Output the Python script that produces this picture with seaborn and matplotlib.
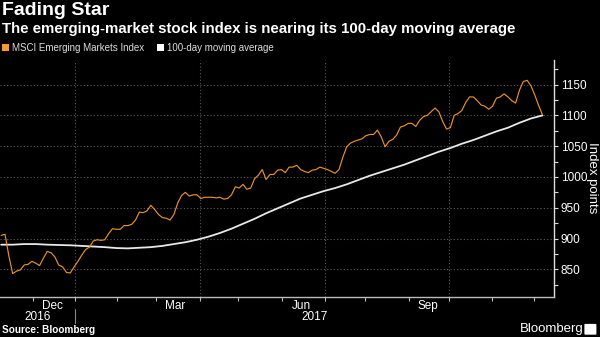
import numpy as np
import pandas as pd
import matplotlib
matplotlib.use("Agg")
import matplotlib.pyplot as plt
from matplotlib.patches import Patch
import matplotlib.transforms as mtransforms
from matplotlib import font_manager
import seaborn as sns

# ---------------- data ----------------
start_date = "2016-11-08"
end_date = "2017-12-07"
# MSCI Emerging Markets Index, sampled every 2 business days from start_date
msci_values = [
    905, 907, 872, 843, 847, 849, 857, 858, 863, 860,
    856, 868, 879, 877, 870, 857, 854, 845, 844, 854,
    863, 873, 882, 886, 896, 898, 897, 898, 908, 916,
    915, 915, 921, 921, 923, 930, 943, 942, 945, 954,
    947, 939, 934, 933, 930, 939, 958, 970, 975, 969,
    971, 971, 965, 967, 967, 967, 966, 967, 964, 965,
    971, 984, 982, 988, 980, 982, 997, 1003, 1012, 996,
    1004, 1004, 1011, 1012, 1007, 1016, 1016, 1019, 1012, 1009,
    1007, 1011, 1012, 1016, 1014, 1012, 1009, 1006, 1012, 1032,
    1049, 1055, 1058, 1060, 1062, 1067, 1069, 1069, 1076, 1065,
    1049, 1058, 1061, 1068, 1081, 1083, 1087, 1087, 1082, 1092,
    1098, 1100, 1106, 1112, 1106, 1090, 1078, 1080, 1100, 1103,
    1108, 1121, 1130, 1130, 1124, 1117, 1115, 1110, 1115, 1128,
    1130, 1135, 1130, 1124, 1120, 1141, 1155, 1157, 1148, 1133,
    1116, 1101,
]
# 100-day moving average, sampled every 6 business days from start_date
ma_values = [
    890, 890, 891, 891, 890, 889.5, 889, 888, 887, 886,
    884.5, 884, 885, 886, 888, 891, 894, 898, 903, 909,
    916, 924, 932, 941, 949, 957, 965, 971, 977, 982,
    988, 995, 1002, 1008, 1014, 1020, 1027, 1034, 1041, 1047,
    1054, 1060, 1067, 1074, 1080, 1088, 1095, 1100,
]
month_labels = ["Dec", "Mar", "Jun", "Sep"]
month_label_dates = ["2016-12-15", "2017-03-15", "2017-06-15", "2017-09-15"]
year_labels = ["2016", "2017"]
y_ticks = [850, 900, 950, 1000, 1050, 1100, 1150]
series_names = ["MSCI Emerging Markets Index", "100-day moving average"]

ORANGE = "#e8902a"
LEGEND_ORANGE = "#f59a30"
MA_COLOR = "#e8e8e8"
BG = "#000000"

installed = {f.name for f in font_manager.fontManager.ttflist}
NARROW = ["Liberation Sans Narrow", "DejaVu Sans"] if "Liberation Sans Narrow" in installed else ["Liberation Sans", "DejaVu Sans"]

# business-day axis
bdays = pd.bdate_range(start_date, end_date)
pos = pd.Series(np.arange(len(bdays)), index=bdays)

df_msci = pd.DataFrame({"date": bdays[::2][:len(msci_values)], "value": msci_values})
df_msci["x"] = pos.loc[df_msci["date"]].values
df_ma = pd.DataFrame({"date": bdays[::6][:len(ma_values)], "value": ma_values})
df_ma["x"] = pos.loc[df_ma["date"]].values

def bpos(d):
    d = pd.Timestamp(d)
    return float(np.searchsorted(bdays.values, np.datetime64(d))) - 0.5

sns.set_theme(style="dark")
plt.rcParams["font.family"] = ["Liberation Sans", "DejaVu Sans"]

fig = plt.figure(figsize=(6.0, 3.37), dpi=100, facecolor=BG)
ax = fig.add_axes([0.0, 1 - 297 / 337, 554 / 600, (297 - 60) / 337])
ax.set_facecolor(BG)

sns.lineplot(data=df_ma, x="x", y="value", ax=ax, color=MA_COLOR, lw=1.3,
             legend=False, zorder=3)
sns.lineplot(data=df_msci, x="x", y="value", ax=ax, color=ORANGE, lw=0.85,
             legend=False, zorder=4)

ax.set_xlim(-0.6, 288)
ax.set_ylim(805, 1190)

# spines
for s in ["left", "top"]:
    ax.spines[s].set_visible(False)
ax.spines["right"].set_color("#dddddd")
ax.spines["bottom"].set_color("#bbbbbb")
ax.spines["right"].set_linewidth(1.0)
ax.spines["bottom"].set_linewidth(1.0)

# y axis on right
ax.yaxis.tick_right()
ax.set_yticks(y_ticks)
ax.set_yticklabels([str(v) for v in y_ticks], family=NARROW)
ax.set_yticks([v + 25 for v in [800] + y_ticks], minor=True)
ax.tick_params(axis="y", which="both", colors="#dddddd", labelcolor="white",
               labelsize=8.5, length=3, width=0.8, pad=2, direction="out",
               right=True, left=False)
ax.set_ylabel("")
fig.text(592 / 600, 1 - 178 / 337, "Index points", color="white",
         fontsize=9.5, rotation=270, ha="center", va="center", family=NARROW)

# x axis: month boundary ticks, quarter gridlines
month_starts = pd.date_range("2016-12-01", "2017-12-01", freq="MS")
ax.set_xticks([bpos(d) for d in month_starts])
ax.set_xticklabels([])
ax.set_xticks([bpos(d) for d in month_label_dates], minor=True)
ax.set_xticklabels(month_labels, minor=True, family=NARROW)
ax.tick_params(axis="x", which="major", colors="#bbbbbb", length=3, width=0.8,
               bottom=True)
ax.tick_params(axis="x", which="minor", length=0, labelcolor="white",
               labelsize=8.5, pad=2, bottom=True)

ax.grid(False)
ax.yaxis.grid(True, which="major", color="#5a5a5a", linestyle=(0, (1, 2)),
              lw=0.8)
for d in ["2017-01-01", "2017-04-01", "2017-07-01", "2017-10-01"]:
    ax.axvline(bpos(d), color="#5a5a5a", linestyle=(0, (1, 2)), lw=0.8,
               zorder=1)
ax.set_xlabel("")

# year labels + separator
trans = mtransforms.blended_transform_factory(ax.transData, fig.transFigure)
jan = bpos("2017-01-01")
ax.text((ax.get_xlim()[0] + jan) / 2, 1 - 317 / 337, year_labels[0],
        transform=trans, ha="center", va="center", color="white",
        fontsize=8.5, family=NARROW)
ax.text((jan + ax.get_xlim()[1]) / 2, 1 - 317 / 337, year_labels[1],
        transform=trans, ha="center", va="center", color="white",
        fontsize=8.5, family=NARROW)
ax.plot([jan, jan], [1 - 309 / 337, 1 - 323 / 337], transform=trans,
        color="#888888", lw=0.8, clip_on=False)

# titles
fig.text(0.004, 1 - 2 / 337, "Fading Star", color="white", fontsize=14,
         fontweight="bold", ha="left", va="top")
fig.text(0.004, 1 - 22 / 337,
         "The emerging-market stock index is nearing its 100-day moving average",
         color="white", fontsize=10.8, fontweight="bold", ha="left", va="top")

handles = [Patch(facecolor=LEGEND_ORANGE, edgecolor="none"),
           Patch(facecolor="white", edgecolor="none")]
fig.legend(handles, series_names, loc="upper left",
           bbox_to_anchor=(0.0, 1 - 41 / 337), ncol=2, frameon=False,
           prop={"family": NARROW, "size": 7}, labelcolor="#dddddd",
           handlelength=0.7, handleheight=0.7, handletextpad=0.3,
           columnspacing=1.4, borderaxespad=0.0, borderpad=0.2)

fig.text(0.004, 1 - 330 / 337, "Source: Bloomberg", color="white",
         fontsize=7.2, fontweight="bold", ha="left", va="center")
fig.text(0.972, 1 - 329 / 337, "Bloomberg", color="white", fontsize=9.5,
         ha="right", va="center")
fig.patches.append(matplotlib.patches.FancyBboxPatch(
    (0.976, 1 - 334 / 337), 0.016, 0.028, boxstyle="round,pad=0.002",
    transform=fig.transFigure, facecolor="white", edgecolor="none"))

fig.savefig("out.png", dpi=100, facecolor=BG)
